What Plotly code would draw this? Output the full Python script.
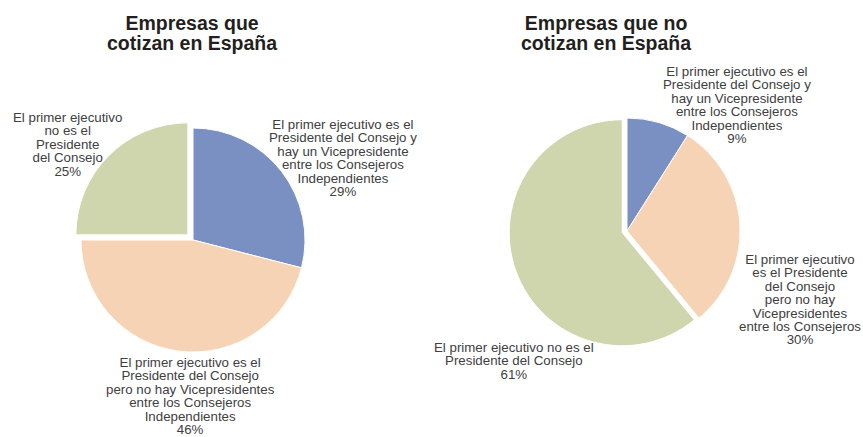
import plotly.graph_objects as go

# Data
categories = [
    "El primer ejecutivo es el Presidente del Consejo y hay un Vicepresidente entre los Consejeros Independientes",
    "El primer ejecutivo es el Presidente del Consejo pero no hay Vicepresidentes entre los Consejeros Independientes",
    "El primer ejecutivo no es el Presidente del Consejo",
]
cotizan_values = [29, 46, 25]
no_cotizan_values = [9, 30, 61]

titles = ["Empresas que<br>cotizan en España", "Empresas que no<br>cotizan en España"]

# how each label wraps in each chart
cotizan_wrap = [
    ["El primer ejecutivo es el", "Presidente del Consejo y", "hay un Vicepresidente",
     "entre los Consejeros", "Independientes"],
    ["El primer ejecutivo es el", "Presidente del Consejo", "pero no hay Vicepresidentes",
     "entre los Consejeros", "Independientes"],
    ["El primer ejecutivo", "no es el", "Presidente", "del Consejo"],
]
no_cotizan_wrap = [
    ["El primer ejecutivo es el", "Presidente del Consejo y", "hay un Vicepresidente",
     "entre los Consejeros", "Independientes"],
    ["El primer ejecutivo", "es el Presidente", "del Consejo", "pero no hay",
     "Vicepresidentes", "entre los Consejeros"],
    ["El primer ejecutivo no es el", "Presidente del Consejo"],
]

colors = ["#7A90C3", "#F6D3B4", "#CFD6AE"]

W, H = 863, 437
FONT = "Liberation Sans, Arial, sans-serif"


def tight(lines, size):
    # keep the glyph size but squeeze the line spacing
    return "<br>".join(f"<span style='font-size:{size}px'>{t}</span>" for t in lines)


fig = go.Figure()

fig.add_trace(go.Pie(
    labels=categories, values=cotizan_values, sort=False, direction="clockwise",
    rotation=0, pull=[0, 0, 0.065], textinfo="none", hoverinfo="label+percent",
    marker=dict(colors=colors, line=dict(color="white", width=1)),
    domain=dict(x=[73.7 / W, 312.3 / W], y=[1 - 359.3 / H, 1 - 120.7 / H]),
))
fig.add_trace(go.Pie(
    labels=categories, values=no_cotizan_values, sort=False, direction="clockwise",
    rotation=0, pull=[0, 0, 0.045], textinfo="none", hoverinfo="label+percent",
    marker=dict(colors=colors, line=dict(color="white", width=1)),
    domain=dict(x=[508.9 / W, 745.1 / W], y=[1 - 349.1 / H, 1 - 112.9 / H]),
))

annotations = []

# Titles
for t, cx in zip(titles, [192, 606]):
    annotations.append(dict(
        text=tight([f"<b>{s}</b>" for s in t.split("<br>")], 19.5),
        x=cx / W, y=1 - 33 / H, xref="paper", yref="paper",
        xanchor="center", yanchor="middle", showarrow=False, align="center",
        font=dict(family=FONT, size=15, color="#231F20"),
    ))

# Slice labels
label_pos = [
    [(343, 158), (190, 396), (67, 144)],
    [(737, 105), (800, 299), (514, 361)],
]
for values, wraps, pos in [(cotizan_values, cotizan_wrap, label_pos[0]),
                           (no_cotizan_values, no_cotizan_wrap, label_pos[1])]:
    for v, lines, (px, py) in zip(values, wraps, pos):
        annotations.append(dict(
            text=tight(lines + [f"{v}%"], 13.3),
            x=px / W, y=1 - py / H, xref="paper", yref="paper",
            xanchor="center", yanchor="middle", showarrow=False, align="center",
            font=dict(family=FONT, size=10.3, color="#404040"),
        ))

fig.update_layout(
    width=W, height=H,
    margin=dict(l=0, r=0, t=0, b=0),
    paper_bgcolor="white",
    plot_bgcolor="white",
    showlegend=False,
    annotations=annotations,
)

# drop the browser's default body margin so the figure fills the window
fig.write_html(
    "out.html",
    config={"displayModeBar": False},
    post_script="document.body.style.margin = '0';",
)
